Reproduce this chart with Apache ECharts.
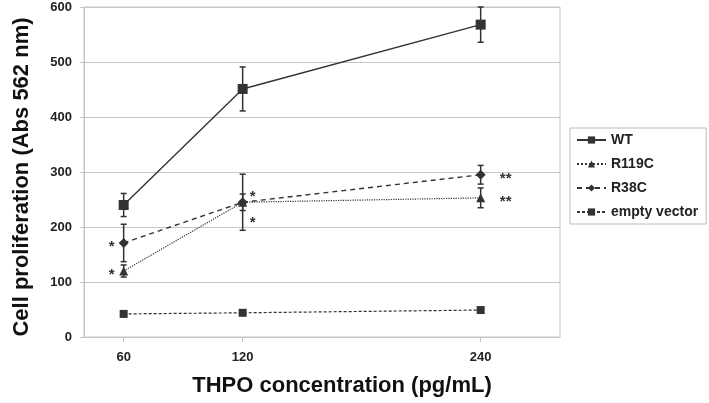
<!DOCTYPE html>
<html>
<head>
<meta charset="utf-8">
<script src="https://cdn.jsdelivr.net/npm/echarts@6/dist/echarts.min.js"></script>
<style>html,body{margin:0;padding:0;background:#fff}#chart{width:709px;height:403px}</style>
</head>
<body>
<div id="chart"></div>
<script>
// ---- data ----
const concentrations = [60, 120, 240];
const xTickLabels = [60, 120, 240];
const seriesNames = ['WT', 'R119C', 'R38C', 'empty vector'];
const wtValues = [240, 451, 568];
const wtErrors = [21, 40, 32];
const r119cValues = [120, 245, 253];
const r119cErrors = [11, 51, 18];
const r38cValues = [171, 245, 295];
const r38cErrors = [34, 15, 17];
const emptyValues = [42, 44, 49];
const emptyErrors = [5, 4, 3];
const r119cSignif = ['*', '*', '**'];
const r38cSignif = ['*', '*', '**'];

// ---- styling ----
const FONT = 'Arial, "Liberation Sans", sans-serif';
const INK = '#333333';
const GRID = '#c6c6c6';

function pairs(vals) { return concentrations.map((x, i) => [x, vals[i]]); }
function errData(vals, errs) { return concentrations.map((x, i) => [x, vals[i], errs[i]]); }

function errorSeries(name, vals, errs) {
  return {
    type: 'custom', name: name + ' error', data: errData(vals, errs), z: 3,
    renderItem: function (params, api) {
      const x = api.value(0), v = api.value(1), e = api.value(2);
      const top = api.coord([x, v + e]);
      const bot = api.coord([x, v - e]);
      const hw = 3;
      const st = { stroke: INK, lineWidth: 1.5 };
      return { type: 'group', children: [
        { type: 'line', shape: { x1: top[0], y1: top[1], x2: bot[0], y2: bot[1] }, style: st },
        { type: 'line', shape: { x1: top[0] - hw, y1: top[1], x2: top[0] + hw, y2: top[1] }, style: st },
        { type: 'line', shape: { x1: bot[0] - hw, y1: bot[1], x2: bot[0] + hw, y2: bot[1] }, style: st }
      ]};
    }
  };
}

// pixel offsets of significance marks from their data point (layout only)
const sigDx = [-12, 10, 25];
function sigSeries(name, vals, marks, dyAt120) {
  return {
    type: 'custom', name: name + ' signif', z: 5,
    data: concentrations.map((x, i) => [x, vals[i], i]),
    renderItem: function (params, api) {
      const i = api.value(2);
      const p = api.coord([api.value(0), api.value(1)]);
      const dy = (i === 1 ? dyAt120 : 0) + 4;
      return { type: 'text', style: {
        x: p[0] + sigDx[i], y: p[1] + dy, text: marks[i], fill: INK,
        font: 'bold 15px ' + FONT, align: 'center', verticalAlign: 'middle'
      }};
    }
  };
}

function lineSeries(name, vals, symbol, size, lineType, width) {
  return {
    type: 'line', name: name, data: pairs(vals), symbol: symbol, symbolSize: size, z: 4,
    lineStyle: { color: INK, width: width, type: lineType },
    itemStyle: { color: INK, borderWidth: 0 }
  };
}

const chart = echarts.init(document.getElementById('chart'), null, { renderer: 'canvas' });
chart.setOption({
  animation: false,
  backgroundColor: '#fff',
  grid: { left: 84, right: 149, top: 7, bottom: 66, show: true, borderColor: GRID, borderWidth: 1 },
  legend: {
    orient: 'vertical', left: 570, top: 128,
    data: seriesNames,
    itemWidth: 29, itemHeight: 9, itemGap: 8,
    padding: [4, 8, 4, 6],
    borderColor: '#bdbdbd', borderWidth: 1,
    textStyle: { fontFamily: FONT, fontWeight: 'bold', fontSize: 14, color: '#222', lineHeight: 16 }
  },
  xAxis: {
    type: 'value', min: 40, max: 280, interval: 20,
    name: 'THPO concentration (pg/mL)', nameLocation: 'middle', nameGap: 38,
    nameTextStyle: { fontFamily: FONT, fontWeight: 'bold', fontSize: 22, color: '#111', padding: [0, 0, 0, 40] },
    axisLine: { show: true, lineStyle: { color: GRID } },
    axisTick: { show: true, length: 5, customValues: xTickLabels, lineStyle: { color: GRID } },
    axisLabel: { customValues: xTickLabels, margin: 14, fontFamily: FONT, fontWeight: 'bold', fontSize: 13, color: '#222' },
    splitLine: { show: false }
  },
  yAxis: {
    type: 'value', min: 0, max: 600, interval: 100,
    name: 'Cell proliferation (Abs 562 nm)', nameLocation: 'middle', nameGap: 51,
    nameTextStyle: { fontFamily: FONT, fontWeight: 'bold', fontSize: 22, color: '#111', padding: [0, 10, 0, 0] },
    axisLine: { show: true, lineStyle: { color: GRID } },
    axisTick: { show: true, length: 4, lineStyle: { color: GRID } },
    axisLabel: { margin: 12, fontFamily: FONT, fontWeight: 'bold', fontSize: 13, color: '#222' },
    splitLine: { show: true, lineStyle: { color: GRID, width: 1 } }
  },
  series: [
    errorSeries('WT', wtValues, wtErrors),
    errorSeries('R119C', r119cValues, r119cErrors),
    errorSeries('R38C', r38cValues, r38cErrors),
    errorSeries('empty vector', emptyValues, emptyErrors),
    lineSeries('WT', wtValues, 'rect', 10, 'solid', 1.4),
    lineSeries('R119C', r119cValues, 'triangle', 9, 'dotted', 1.2),
    lineSeries('R38C', r38cValues, 'diamond', 10, [5, 4], 1.4),
    lineSeries('empty vector', emptyValues, 'rect', 8, [3, 2], 1.2),
    sigSeries('R38C', r38cValues, r38cSignif, -9),
    sigSeries('R119C', r119cValues, r119cSignif, 17)
  ]
});
</script>
</body>
</html>
